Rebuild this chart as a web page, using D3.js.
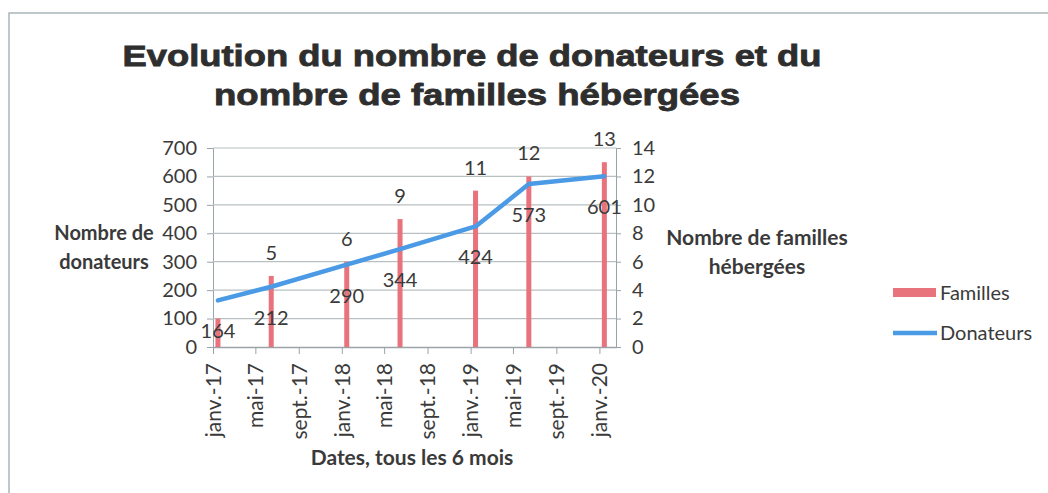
<!DOCTYPE html>
<html>
<head>
<meta charset="utf-8">
<script src="https://cdn.jsdelivr.net/npm/d3@7"></script>
<style>
  body { margin: 0; background: #fff; }
  svg { display: block; }
  text { font-family: Lato, "Open Sans", sans-serif; fill: #3a3a3a; }
  .title { font-family: "Liberation Sans", Arial, sans-serif; font-weight: bold; fill: #2e2e2e; stroke: #2e2e2e; stroke-width: 0.8; }
  .axis-title { font-weight: bold; }
</style>
</head>
<body>
<script>
// Data
const dates = ["2017-01-15", "2017-06-15", "2018-01-15", "2018-06-15", "2019-01-15", "2019-06-15", "2020-01-15"];
const donateurs = [164, 212, 290, 344, 424, 573, 601];
const familles = [2, 5, 6, 9, 11, 12, 13];

const tickDates = ["2017-01-01", "2017-05-01", "2017-09-01", "2018-01-01", "2018-05-01", "2018-09-01",
                   "2019-01-01", "2019-05-01", "2019-09-01", "2020-01-01"];
const tickLabels = ["janv.-17", "mai-17", "sept.-17", "janv.-18", "mai-18", "sept.-18",
                    "janv.-19", "mai-19", "sept.-19", "janv.-20"];
const leftTicks = [0, 100, 200, 300, 400, 500, 600, 700];
const rightTicks = [0, 2, 4, 6, 8, 10, 12, 14];

const parse = d3.timeParse("%Y-%m-%d");
const rows = dates.map((d, i) => ({ date: parse(d), donateurs: donateurs[i], familles: familles[i] }));

const W = 1048, H = 493;
// plot area
const plot = { left: 213, right: 616, top: 148, bottom: 347 };

const svg = d3.select("body").append("svg")
  .attr("width", W)
  .attr("height", H);

// outer frame of the scanned chart
svg.append("path")
  .attr("d", `M9,${H} V13 H${W}`)
  .attr("fill", "none")
  .attr("stroke", "#a9b6ba")
  .attr("stroke-width", 1.5);

// Title
const title = svg.append("text").attr("class", "title").attr("text-anchor", "middle").attr("font-size", 29);
title.append("tspan").attr("x", 472).attr("y", 66)
  .attr("textLength", 699).attr("lengthAdjust", "spacingAndGlyphs")
  .text("Evolution du nombre de donateurs et du");
title.append("tspan").attr("x", 477).attr("y", 105)
  .attr("textLength", 526).attr("lengthAdjust", "spacingAndGlyphs")
  .text("nombre de familles hébergées");

// Scales
const x = d3.scaleTime()
  .domain([parse("2017-01-01"), parse("2020-02-17")])
  .range([plot.left, plot.right]);

const yL = d3.scaleLinear().domain([0, 700]).range([plot.bottom, plot.top]);
const yR = d3.scaleLinear().domain([0, 14]).range([plot.bottom, plot.top]);

// Left axis
const left = svg.append("g")
  .attr("transform", `translate(${plot.left},0)`)
  .call(d3.axisLeft(yL).tickValues(leftTicks).tickSize(6).tickPadding(10));
left.select(".domain").attr("stroke", "#9aa4a8");
left.selectAll(".tick line").attr("stroke", "#9aa4a8");
left.selectAll(".tick text").attr("font-size", 20).attr("fill", "#3a3a3a").attr("font-family", null);

// Gridlines
svg.append("g")
  .selectAll("line")
  .data(leftTicks.filter(t => t > 0))
  .join("line")
  .attr("x1", plot.left)
  .attr("x2", plot.right)
  .attr("y1", d => yL(d))
  .attr("y2", d => yL(d))
  .attr("stroke", "#b9c0c2")
  .attr("stroke-width", 1.2);

// Right axis
const right = svg.append("g")
  .attr("transform", `translate(${plot.right},0)`)
  .call(d3.axisRight(yR).tickValues(rightTicks).tickSize(5).tickPadding(11));
right.select(".domain").attr("stroke", "#9aa4a8");
right.selectAll(".tick line").attr("stroke", "#9aa4a8");
right.selectAll(".tick text").attr("font-size", 20).attr("fill", "#3a3a3a").attr("font-family", null);

// Bottom axis
const bottom = svg.append("g")
  .attr("transform", `translate(0,${plot.bottom})`)
  .call(d3.axisBottom(x)
    .tickValues(tickDates.map(parse))
    .tickFormat((d, i) => tickLabels[i])
    .tickSize(7)
    .tickSizeOuter(0));
bottom.select(".domain").attr("stroke", "#9aa4a8").attr("stroke-width", 1.3);
bottom.selectAll(".tick line").attr("stroke", "#9aa4a8");
bottom.selectAll(".tick text")
  .attr("font-size", 21)
  .attr("fill", "#3a3a3a")
  .attr("font-family", null)
  .attr("text-anchor", "end")
  .attr("dy", "0.35em")
  .attr("transform", "translate(0,16) rotate(-90)")
  .attr("x", 0)
  .attr("y", 0);

// Bars (Familles, right axis)
svg.append("g")
  .selectAll("rect")
  .data(rows)
  .join("rect")
  .attr("x", d => x(d.date) - 2.5)
  .attr("y", d => yR(d.familles))
  .attr("width", 5)
  .attr("height", d => plot.bottom - yR(d.familles))
  .attr("fill", "#e8737d");

// Line (Donateurs, left axis)
const line = d3.line()
  .x(d => x(d.date))
  .y(d => yL(d.donateurs));

svg.append("path")
  .datum(rows)
  .attr("d", line)
  .attr("fill", "none")
  .attr("stroke", "#4a9ae6")
  .attr("stroke-width", 4.5)
  .attr("stroke-linejoin", "round")
  .attr("stroke-linecap", "round");

// Familles labels (the first one is hidden behind the line in the original)
svg.append("g")
  .selectAll("text")
  .data(rows.slice(1))
  .join("text")
  .attr("x", d => x(d.date))
  .attr("y", d => yR(d.familles) - 23)
  .attr("dy", "0.35em")
  .attr("text-anchor", "middle")
  .attr("font-size", 20)
  .text(d => d.familles);

// Donateurs labels
svg.append("g")
  .selectAll("text")
  .data(rows)
  .join("text")
  .attr("x", d => x(d.date))
  .attr("y", d => yL(d.donateurs) + 31)
  .attr("dy", "0.35em")
  .attr("text-anchor", "middle")
  .attr("font-size", 20)
  .text(d => d.donateurs);

// Axis titles
const lt = svg.append("text").attr("class", "axis-title").attr("text-anchor", "middle").attr("font-size", 20);
lt.append("tspan").attr("x", 104).attr("y", 240).text("Nombre de");
lt.append("tspan").attr("x", 104).attr("y", 269).text("donateurs");

const rt = svg.append("text").attr("class", "axis-title").attr("text-anchor", "middle").attr("font-size", 21);
rt.append("tspan").attr("x", 757).attr("y", 245).text("Nombre de familles");
rt.append("tspan").attr("x", 757).attr("y", 274).text("hébergées");

svg.append("text")
  .attr("class", "axis-title")
  .attr("x", 412)
  .attr("y", 465)
  .attr("text-anchor", "middle")
  .attr("font-size", 21)
  .text("Dates, tous les 6 mois");

// Legend
const legend = svg.append("g").attr("transform", "translate(893,0)");
legend.append("rect")
  .attr("x", 0).attr("y", 288).attr("width", 43).attr("height", 9)
  .attr("fill", "#e8737d");
legend.append("text")
  .attr("x", 47).attr("y", 293).attr("dy", "0.35em")
  .attr("font-size", 20)
  .text("Familles");
legend.append("line")
  .attr("x1", 0).attr("x2", 44).attr("y1", 333).attr("y2", 333)
  .attr("stroke", "#4a9ae6").attr("stroke-width", 4.5);
legend.append("text")
  .attr("x", 47).attr("y", 333).attr("dy", "0.35em")
  .attr("font-size", 20)
  .text("Donateurs");
</script>
</body>
</html>
